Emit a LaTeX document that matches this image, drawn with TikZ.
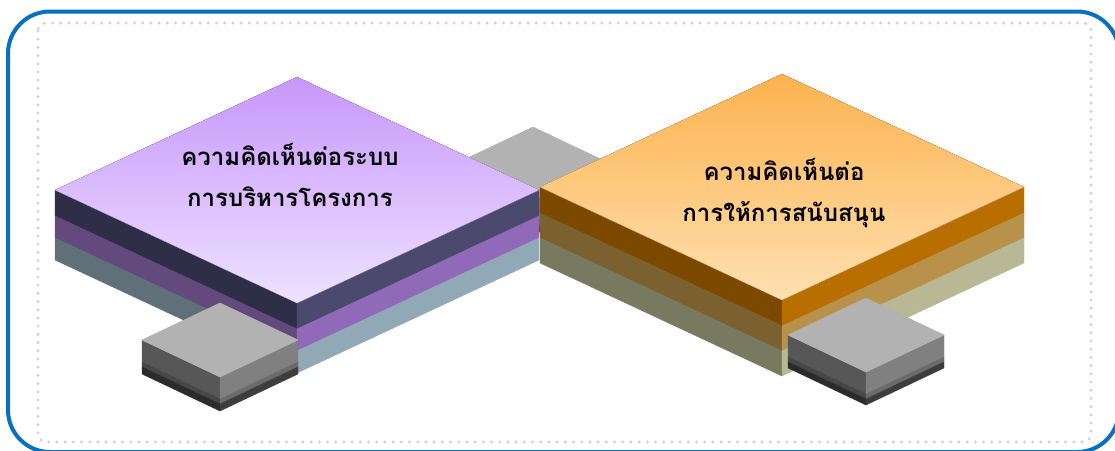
\documentclass[tikz,border=0pt]{standalone}
\usepackage{fontspec}
\newfontfamily\thaifont[Script=Thai]{Loma}
\usetikzlibrary{calc}

\definecolor{frameblue}{RGB}{8,112,192}
\definecolor{dotgray}{RGB}{212,212,212}
\definecolor{plA}{RGB}{47,46,72}
\definecolor{prA}{RGB}{75,74,110}
\definecolor{plB}{RGB}{98,74,124}
\definecolor{prB}{RGB}{145,105,185}
\definecolor{plC}{RGB}{95,112,120}
\definecolor{prC}{RGB}{145,169,182}
\definecolor{olA}{RGB}{123,74,0}
\definecolor{orA}{RGB}{185,111,0}
\definecolor{olB}{RGB}{123,96,48}
\definecolor{orB}{RGB}{184,146,75}
\definecolor{olC}{RGB}{120,122,96}
\definecolor{orC}{RGB}{184,185,148}
\definecolor{glA}{RGB}{87,87,87}
\definecolor{grA}{RGB}{128,128,128}
\definecolor{glB}{RGB}{71,71,71}
\definecolor{grB}{RGB}{107,107,107}
\definecolor{glC}{RGB}{43,43,43}
\definecolor{grC}{RGB}{61,61,61}
\definecolor{gtop}{RGB}{178,178,178}
\definecolor{ptopA}{RGB}{199,151,251}
\definecolor{ptopB}{RGB}{238,226,255}
\definecolor{otopA}{RGB}{253,178,79}
\definecolor{otopB}{RGB}{255,224,176}

\tikzset{
  framebox/.style={draw=frameblue, line width=4pt, rounded corners=42pt},
  dotbox/.style={draw=dotgray, line width=3.4pt, line cap=round,
    dash pattern=on 0pt off 8.2pt, rounded corners=8pt},
  purpletop/.style={top color=ptopA, bottom color=ptopB},
  orangetop/.style={top color=otopA, bottom color=otopB},
  greytop/.style={fill=gtop},
  slabtext/.style={align=center, text=black,
    font=\thaifont\bfseries\fontsize{24}{41}\selectfont}
}

\begin{document}
\begin{tikzpicture}[x=1pt, y=-1pt]
\useasboundingbox (0,0) rectangle (1115,450);
\clip (0,0) rectangle (1115,450);

\def\isoblock#1#2#3#4#5#6#7{%
  \foreach \da/\db/\cl/\cr in {#5}{
    \filldraw[fill=\cl, draw=\cl, line width=0.4pt]
      (#1-#3,#2+\da) -- (#1,#2+#4+\da) -- (#1,#2+#4+\db) -- (#1-#3,#2+\db) -- cycle;
    \filldraw[fill=\cr, draw=\cr, line width=0.4pt]
      (#1,#2+#4+\da) -- (#1+#3,#2+\da) -- (#1+#3,#2+\db) -- (#1,#2+#4+\db) -- cycle;
  }
  \filldraw[fill=#7, draw=#7, line width=0.4pt]
    (#1,#2-#4) -- (#1+#3,#2) -- (#1,#2+#4) -- (#1-#3,#2) -- cycle;
  \fill[#6] (#1,#2-#4) -- (#1+#3,#2) -- (#1,#2+#4) -- (#1-#3,#2) -- cycle;
}

\draw[framebox] (8,11.5) rectangle (1119,452);
\draw[dotbox] (38,23) rectangle (1091,442);

\isoblock{533}{164}{78}{37}{0/22/glA/grA, 22/27/glB/grB, 27/34/glC/grC}{greytop}{gtop}
\isoblock{297}{190}{242}{113}{0/26/plA/prA, 26/48/plB/prB, 48/70/plC/prC}{purpletop}{ptopA!50!ptopB}
\isoblock{782}{187}{242}{113}{0/26/olA/orA, 26/51/olB/orB, 51/76/olC/orC}{orangetop}{otopA!50!otopB}
\isoblock{220}{340}{78}{37}{0/22/glA/grA, 22/27/glB/grB, 27/34/glC/grC}{greytop}{gtop}
\isoblock{866}{335}{78}{37}{0/22/glA/grA, 22/27/glB/grB, 27/33/glC/grC}{greytop}{gtop}

\node[slabtext] (mgmt) at (290,175) {ความคิดเห็นต่อระบบ\\การบริหารโครงการ};
\node[slabtext] (support) at (784,193) {ความคิดเห็นต่อ\\การให้การสนับสนุน};
\end{tikzpicture}
\end{document}
